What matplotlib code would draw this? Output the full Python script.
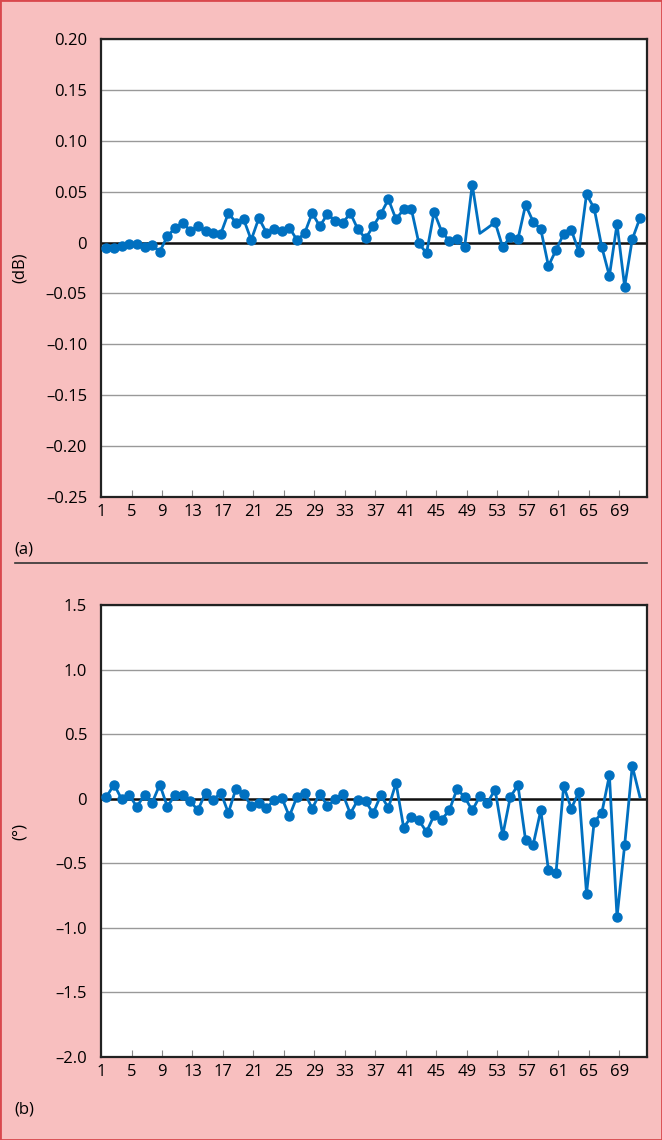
import numpy as np
import matplotlib.pyplot as plt
from matplotlib.patches import Rectangle
from matplotlib.lines import Line2D

# (a) amplitude error, dB
amp_db = [-0.0056, -0.005, -0.003, -0.0014, -0.001, -0.004, -0.0024, -0.009,
          0.0065, 0.014, 0.0196, 0.0117, 0.016, 0.011, 0.0097, 0.0085,
          0.029, 0.0196, 0.023, 0.0026, 0.024, 0.0097, 0.013, 0.0117,
          0.0147, 0.0026, 0.009, 0.029, 0.016, 0.028, 0.0215, 0.019,
          0.029, 0.013, 0.004, 0.016, 0.028, 0.0425, 0.0229, 0.0327,
          0.0333, -0.0007, -0.0105, 0.030, 0.0107, 0.0016, 0.0032, -0.0046,
          0.057, 0.009, 0.0143, 0.020, -0.0046, 0.0058, 0.0035, 0.037,
          0.0205, 0.013, -0.023, -0.0073, 0.0085, 0.0124, -0.009, 0.0474,
          0.0337, -0.0043, -0.0328, 0.0183, -0.0433, 0.0032, 0.0239]
amp_nomark = [49, 50]

# (b) phase error, degrees
phase_deg = [0.014, 0.11, -0.004, 0.027, -0.063, 0.032, -0.032, 0.11,
             -0.063, 0.032, 0.027, -0.02, -0.089, 0.045, -0.012, 0.048,
             -0.11, 0.079, 0.04, -0.058, -0.032, -0.071, -0.012, 0.009,
             -0.136, 0.014, 0.048, -0.076, 0.04, -0.056, -0.006, 0.04,
             -0.115, -0.009, -0.02, -0.113, 0.027, -0.071, 0.122, -0.223,
             -0.141, -0.167, -0.257, -0.128, -0.161, -0.089, 0.074, 0.014,
             -0.091, 0.019, -0.032, 0.071, -0.283, 0.014, 0.105, -0.321,
             -0.355, -0.089, -0.554, -0.572, 0.099, -0.076, 0.053, -0.734,
             -0.18, -0.11, 0.182, -0.916, -0.36, 0.254, 0.014]
phase_nomark = [70]

x_labels = list(range(1, 70, 4))
amp_ticks = [0.20, 0.15, 0.10, 0.05, 0, -0.05, -0.10, -0.15, -0.20, -0.25]
amp_ticklabels = ['0.20', '0.15', '0.10', '0.05', '0', '\u20130.05', '\u20130.10',
                  '\u20130.15', '\u20130.20', '\u20130.25']
phase_ticks = [1.5, 1.0, 0.5, 0, -0.5, -1.0, -1.5, -2.0]
phase_ticklabels = ['1.5', '1.0', '0.5', '0', '\u20130.5', '\u20131.0', '\u20131.5', '\u20132.0']

pink = '#f8bfbf'
blue = '#0070c0'
plt.rcParams['font.family'] = ['Open Sans', 'DejaVu Sans']

fig = plt.figure(figsize=(6.62, 11.4), dpi=100, facecolor=pink)
ax1 = fig.add_axes([0.1526, 0.564, 0.824, 0.4018])
ax2 = fig.add_axes([0.1526, 0.0728, 0.824, 0.3965])

offset = 0.71  # points sit a bit right of the labelled ticks


def draw(ax, vals, nomark, ticks, ticklabels, ylab):
    n = len(vals)
    xs = np.arange(1, n + 1)
    marks = [i for i in range(n) if i not in nomark]
    ax.plot(xs, vals, color=blue, lw=2.0, marker='o', ms=6.5,
            markevery=marks, zorder=3, clip_on=False)
    ax.set_xlim(1 - offset, 71 + 0.87)
    ax.set_ylim(ticks[-1], ticks[0])
    ax.set_yticks(ticks)
    ax.set_yticklabels(ticklabels, fontsize=12)
    ax.set_xticks([v - offset for v in x_labels])
    ax.set_xticklabels([str(v) for v in x_labels], fontsize=12)
    ax.tick_params(axis='x', direction='in', length=5, color='#888888', pad=5)
    ax.tick_params(axis='y', length=0, pad=10)
    ax.grid(axis='y', color='#999999', lw=1.0)
    ax.axhline(0, color='#111111', lw=1.8, zorder=2)
    for s in ax.spines.values():
        s.set_color('#222222')
        s.set_linewidth(1.6)
    ax.set_ylabel(ylab, fontsize=12)
    ax.yaxis.set_label_coords(-0.135, 0.5)
    ax.set_axisbelow(True)


draw(ax1, amp_db, amp_nomark, amp_ticks, amp_ticklabels, '(dB)')
draw(ax2, phase_deg, phase_nomark, phase_ticks, phase_ticklabels, '(\u00b0)')

fig.text(14 / 662, 1 - 549 / 1140, '(a)', fontsize=12, va='center', ha='left')
fig.text(14 / 662, 1 - 1109 / 1140, '(b)', fontsize=12, va='center', ha='left')
fig.add_artist(Line2D([15 / 662, 647 / 662], [1 - 563 / 1140, 1 - 563 / 1140],
                      color='#333333', lw=1.2))
fig.add_artist(Rectangle((0, 0), 1, 1, transform=fig.transFigure, fill=False,
                         edgecolor='#d9484d', lw=2.0))

fig.savefig('out.png', dpi=100, facecolor=pink)
